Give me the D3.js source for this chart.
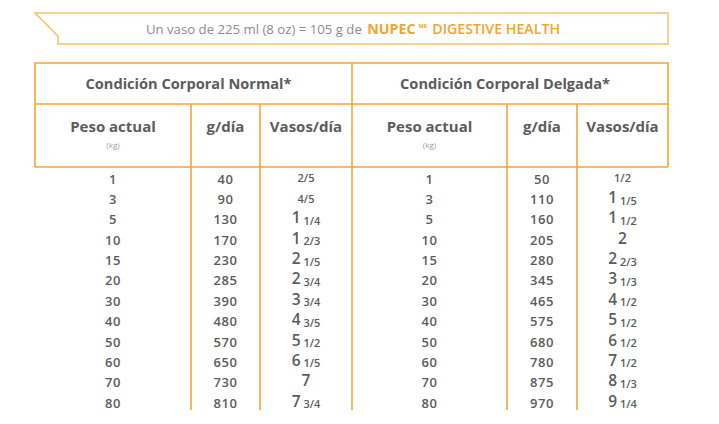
<!DOCTYPE html>
<html><head><meta charset="utf-8">
<script src="https://cdn.jsdelivr.net/npm/d3@7/dist/d3.min.js"></script>
<style>body{margin:0;background:#fff;}svg{display:block;}</style>
</head><body>
<script>
const weights = [1,3,5,10,15,20,30,40,50,60,70,80];
const normalGrams = [40,90,130,170,230,285,390,480,570,650,730,810];
const normalCups = ["2/5","4/5","1 1/4","1 2/3","2 1/5","2 3/4","3 3/4","4 3/5","5 1/2","6 1/5","7","7 3/4"];
const thinGrams = [50,110,160,205,280,345,465,575,680,780,875,970];
const thinCups = ["1/2","1 1/5","1 1/2","2","2 2/3","3 1/3","4 1/2","5 1/2","6 1/2","7 1/2","8 1/3","9 1/4"];
const groupTitles = ["Condición Corporal Normal*","Condición Corporal Delgada*"];
const colHeaders = ["Peso actual","g/día","Vasos/día"];
const unitLabel = "(kg)";
const bannerGray = "Un vaso de 225 ml (8 oz) = 105 g de ";
const bannerBrand = "NUPEC";
const bannerMark = "MR";
const bannerProduct = "DIGESTIVE HEALTH";

const W = 719, H = 424;
const FONT = "'Open Sans', sans-serif";
const ORANGE = "#f3a53a", LIGHT_OR = "#f7c067", GRAY = "#5c5c5c";

const svg = d3.select("body").append("svg").attr("width", W).attr("height", H);
svg.append("rect").attr("width", W).attr("height", H).attr("fill", "#fff");

// Banner
const bx0 = 35, bx1 = 668, by0 = 13, by1 = 44;
svg.append("path")
  .attr("d", `M${bx0},${by0}H${bx1}V${by1}H58V36L${bx0},${by0}Z`)
  .attr("fill", "#fff").attr("stroke", LIGHT_OR).attr("stroke-width", 1.5);
const bt = svg.append("text").attr("x", 353).attr("y", 34).attr("text-anchor", "middle")
  .attr("font-family", FONT);
bt.append("tspan").text(bannerGray).attr("fill", "#8c8c8c").attr("font-size", 13.2);
bt.append("tspan").text(bannerBrand).attr("fill", "#f0a532").attr("font-size", 14.2).attr("font-weight", 700).attr("dx", 2);
bt.append("tspan").text(bannerMark).attr("fill", "#f0a532").attr("font-size", 5.5).attr("font-weight", 700).attr("dx", 3).attr("dy", -6);
bt.append("tspan").text(bannerProduct).attr("fill", "#f0a532").attr("font-size", 14.2).attr("font-weight", 600).attr("dx", 5).attr("dy", 6);

// Table geometry
const groups = [
  {title: groupTitles[0], cols: [35, 191, 260, 352], grams: normalGrams, cups: normalCups},
  {title: groupTitles[1], cols: [352, 507, 577, 668], grams: thinGrams, cups: thinCups}
];
const yTop = 63, yMid = 104, yHead = 167, yBottom = 410;

const y = d3.scaleBand().domain(weights).range([169, 413.3]).padding(0);

const lines = svg.append("g").attr("stroke", ORANGE).attr("stroke-width", 1.6).attr("fill", "none");
lines.append("path").attr("d", `M35,${yHead}V${yTop}H668V${yHead}`);
lines.append("line").attr("x1", 35).attr("x2", 668).attr("y1", yMid).attr("y2", yMid);
lines.append("line").attr("x1", 35).attr("x2", 668).attr("y1", yHead).attr("y2", yHead);
const divs = [191, 260, 352, 507, 577];
divs.forEach(x => {
  const top = x === 352 ? yTop : yMid;
  lines.append("line").attr("x1", x).attr("x2", x).attr("y1", top).attr("y2", yBottom);
});

function cupText(sel, s, base) {
  const parts = s.split(" ");
  if (parts.length === 2) {
    sel.append("tspan").text(parts[0]).attr("font-size", base + 3).attr("font-weight", 600).attr("dy", -1);
    sel.append("tspan").text(parts[1]).attr("font-size", base - 1.5).attr("font-weight", 600).attr("dx", 3).attr("dy", 1.5);
  } else if (s.includes("/")) {
    sel.append("tspan").text(s).attr("font-size", base - 1.5).attr("font-weight", 600).attr("dy", -1.5);
  } else {
    sel.append("tspan").text(s).attr("font-size", base + 3).attr("font-weight", 600).attr("dy", -1);
  }
}

groups.forEach(g => {
  const c = g.cols;
  const cx = [(c[0] + c[1]) / 2, (c[1] + c[2]) / 2, (c[2] + c[3]) / 2];
  svg.append("text").attr("x", (c[0] + c[3]) / 2 - 5).attr("y", 89).attr("text-anchor", "middle")
    .attr("font-family", FONT).attr("font-weight", 700).attr("font-size", 14.6).attr("fill", GRAY)
    .text(g.title);
  colHeaders.forEach((h, i) => {
    svg.append("text").attr("x", cx[i]).attr("y", 132).attr("text-anchor", "middle")
      .attr("font-family", FONT).attr("font-weight", 700).attr("font-size", 15).attr("fill", GRAY)
      .text(h);
  });
  svg.append("text").attr("x", cx[0]).attr("y", 147.5).attr("text-anchor", "middle")
    .attr("font-family", FONT).attr("font-size", 8).attr("fill", "#a0a0a0").text(unitLabel);

  const body = svg.append("g").attr("font-family", FONT).attr("fill", GRAY).attr("text-anchor", "middle");
  weights.forEach((w, i) => {
    const yc = y(w) + y.bandwidth() / 2 + 4.5;
    body.append("text").attr("x", cx[0]).attr("y", yc).attr("font-size", 13).attr("font-weight", 600)
      .attr("letter-spacing", 0.6).text(w);
    body.append("text").attr("x", cx[1]).attr("y", yc).attr("font-size", 13).attr("font-weight", 600)
      .attr("letter-spacing", 0.6).text(g.grams[i]);
    const t = body.append("text").attr("x", cx[2]).attr("y", yc);
    cupText(t, g.cups[i], 12.5);
  });
});
</script>
</body></html>
